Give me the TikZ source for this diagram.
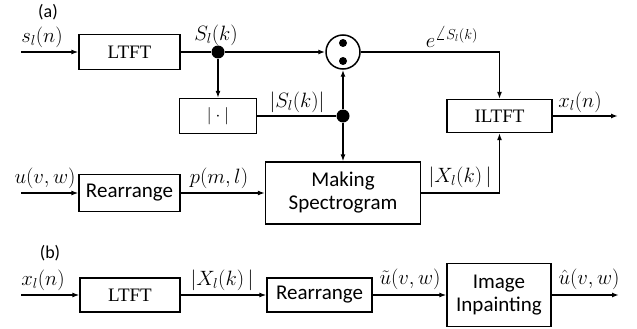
\documentclass[tikz,border=0pt]{standalone}
\usepackage{fontspec}
\setmainfont{Liberation Serif}
\setsansfont{Carlito}
\usetikzlibrary{arrows.meta}

\begin{document}
\begin{tikzpicture}[x=1pt, y=-1pt, line width=1.5pt,
    block/.style={draw, line width=1.3pt, inner sep=0pt, align=center},
    serifbox/.style={block, font=\fontsize{19}{22}\selectfont},
    sansbox/.style={block, font=\sffamily\fontsize{21}{23}\selectfont},
    sig/.style={-{Latex[length=7pt,width=5pt]}},
    lbl/.style={font=\fontsize{20}{23}\selectfont, inner sep=0pt},
    junc/.style={circle, fill, inner sep=0pt, minimum size=13pt},
    panel/.style={font=\sffamily\fontsize{18}{21}\selectfont, inner sep=0pt}]
  \useasboundingbox (0,0) rectangle (637,329);

  % (a) reconstruction
  \node[panel] (taga) at (48,12) {(a)};
  \coordinate (sina) at (21,52);
  \node[serifbox, minimum width=101pt, minimum height=35pt] (ltfta) at (129.5,52) {LTFT};
  \node[junc] (ja) at (218,52) {};
  \node[draw, circle, minimum size=34pt, inner sep=0pt] (mul) at (343,52) {};
  \fill (mul.center) ++(0,-9) circle (4pt);
  \fill (mul.center) ++(0,9) circle (4pt);
  \node[serifbox, minimum width=77pt, minimum height=35pt] (absbox) at (218,116) {$|\cdot|$};
  \node[junc] (jb) at (343,116) {};
  \node[serifbox, minimum width=105pt, minimum height=33pt] (iltft) at (499.5,116) {ILTFT};
  \coordinate (outa) at (618,116);
  \coordinate (ua) at (21,193);
  \node[sansbox, minimum width=101pt, minimum height=37pt] (rearra) at (129.5,193) {Rearrange};
  \node[sansbox, minimum width=155pt, minimum height=62pt] (spec) at (343,193) {Making\\Spectrogram};

  \draw[sig] (sina) -- (ltfta.west);
  \draw (ltfta.east) -- (ja);
  \draw[sig] (ja) -- (mul.west);
  \draw[sig] (ja) -- (absbox.north);
  \draw (absbox.east) -- (jb);
  \draw[sig] (jb) -- (mul.south);
  \draw[sig] (jb) -- (spec.north);
  \draw[sig] (mul.east) -| (iltft.north);
  \draw[sig] (iltft.east) -- (outa);
  \draw[sig] (ua) -- (rearra.west);
  \draw[sig] (rearra.east) -- (spec.west);
  \draw[sig] (spec.east) -| (iltft.south);

  \node[lbl] (lsa) at (42,37) {$s_l(n)$};
  \node[lbl] (lSk) at (216,35) {$S_l(k)$};
  \node[lbl] (labs) at (297,102) {$|S_l(k)|$};
  \node[lbl] (lph) at (452,37) {$e^{\angle S_l(k)}$};
  \node[lbl] (lxa) at (580,102) {$x_l(n)$};
  \node[lbl] (lXa) at (460,177) {$|X_l(k)\,|$};
  \node[lbl] (lua) at (45,178) {$u(v,w)$};
  \node[lbl] (lpa) at (219,178) {$p(m,l)$};

  % (b) inpainting
  \node[panel] (tagb) at (50,253) {(b)};
  \coordinate (inb) at (21,295);
  \node[serifbox, minimum width=100pt, minimum height=34pt] (ltftb) at (130,295) {LTFT};
  \node[sansbox, minimum width=105pt, minimum height=34pt] (rearrb) at (319.5,295) {Rearrange};
  \node[sansbox, minimum width=104pt, minimum height=63pt] (inpaint) at (499,295) {Image\\Inpainting};
  \coordinate (outb) at (619,295);

  \draw[sig] (inb) -- (ltftb.west);
  \draw[sig] (ltftb.east) -- (rearrb.west);
  \draw[sig] (rearrb.east) -- (inpaint.west);
  \draw[sig] (inpaint.east) -- (outb);

  \node[lbl] (lxb) at (43,280) {$x_l(n)$};
  \node[lbl] (lXb) at (222,280) {$|X_l(k)\,|$};
  \node[lbl] (lut) at (410,279) {$\tilde{u}(v,w)$};
  \node[lbl] (luh) at (589,279) {$\hat{u}(v,w)$};
\end{tikzpicture}
\end{document}
